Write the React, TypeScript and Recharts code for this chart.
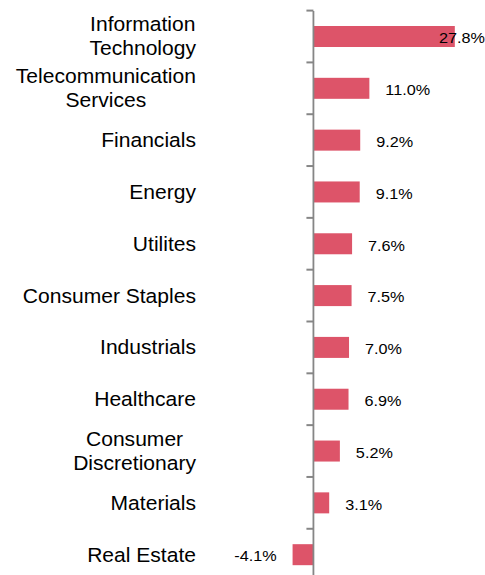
import React from "react";
import { BarChart, Bar, XAxis, YAxis, ReferenceLine, LabelList } from "recharts";

const categories = [
  "Information\nTechnology",
  "Telecommunication\nServices",
  "Financials",
  "Energy",
  "Utilites",
  "Consumer Staples",
  "Industrials",
  "Healthcare",
  "Consumer\nDiscretionary",
  "Materials",
  "Real Estate",
];
const values = [27.8, 11.0, 9.2, 9.1, 7.6, 7.5, 7.0, 6.9, 5.2, 3.1, -4.1];
const xDomain = [-5, 30];

const data = categories.map((name, i) => ({ name, value: values[i] }));

const W = 485;
const H = 600;
const MARGIN = { top: 11, right: 19, bottom: 19, left: 0 };
const YW = 288;
const FONT = '"Liberation Sans", Arial, sans-serif';
const SX = 1.08;
const CAT_SIZE = 19.5;
const VAL_SIZE = 15;
const LABEL_RIGHT = 196;
const BAR_COLOR = "#DD5469";
const AXIS_COLOR = "#868686";

const plotW = W - MARGIN.left - MARGIN.right - YW;
const plotH = H - MARGIN.top - MARGIN.bottom;
const bandH = plotH / categories.length;
const zeroX = MARGIN.left + YW + ((0 - xDomain[0]) / (xDomain[1] - xDomain[0])) * plotW;

let ctx: CanvasRenderingContext2D | null = null;
function measure(text: string, size: number) {
  if (!ctx) ctx = document.createElement("canvas").getContext("2d");
  if (!ctx) return text.length * size * 0.55;
  ctx.font = `${size}px "Liberation Sans", Arial, sans-serif`;
  return ctx.measureText(text).width * SX;
}

const CatTick = (props: any) => {
  const { y, payload } = props;
  const lines = String(payload.value).split("\n");
  const maxW = Math.max(...lines.map((l) => measure(l, CAT_SIZE)));
  const cx = LABEL_RIGHT - maxW / 2;
  const lh = 24;
  const base = y + 6.5 - ((lines.length - 1) * lh) / 2;
  return (
    <g>
      {lines.map((l, i) => (
        <text
          key={i}
          transform={`translate(${cx},${base + i * lh}) scale(${SX},1)`}
          textAnchor="middle"
          fontFamily={FONT}
          fontSize={CAT_SIZE}
          fill="#000"
        >
          {l}
        </text>
      ))}
    </g>
  );
};

const BarShape = (props: any) => {
  const { x, y, width, height, fill } = props;
  const left = Math.min(x, x + width);
  const w = Math.abs(width);
  const top = y + height / 2 - bandH / 2;
  return (
    <g>
      <rect x={left} y={y} width={w} height={height} fill={fill} />
      <path d={`M${zeroX - 7},${top}H${zeroX}`} stroke={AXIS_COLOR} strokeWidth={2} fill="none" />
    </g>
  );
};

const ValueLabel = (props: any) => {
  const { x, y, width, height, value } = props;
  const txt = Number(value).toFixed(1) + "%";
  const left = Math.min(x, x + width);
  const right = Math.max(x, x + width);
  const cy = y + height / 2 + 6.8;
  const tw = measure(txt, VAL_SIZE);
  let start: number;
  if (value < 0) start = left - 16 - tw;
  else start = Math.min(right + 16, W - tw);
  return (
    <text
      transform={`translate(${start},${cy}) scale(${SX},1)`}
      textAnchor="start"
      fontFamily={FONT}
      fontSize={VAL_SIZE}
      fill="#000"
    >
      {txt}
    </text>
  );
};

export default function App() {
  return (
    <div style={{ position: "absolute", left: 0, top: 0, width: W, height: 575, overflow: "hidden", background: "#fff" }}>
      <BarChart width={W} height={H} data={data} layout="vertical" margin={MARGIN}>
        <XAxis type="number" domain={xDomain} hide />
        <YAxis
          type="category"
          dataKey="name"
          width={YW}
          axisLine={false}
          tickLine={false}
          interval={0}
          tick={<CatTick />}
        />
        <ReferenceLine x={0} stroke={AXIS_COLOR} strokeWidth={1.8} />
        <Bar dataKey="value" fill={BAR_COLOR} barSize={21} isAnimationActive={false} shape={<BarShape />}>
          <LabelList dataKey="value" content={<ValueLabel />} />
        </Bar>
      </BarChart>
    </div>
  );
}
